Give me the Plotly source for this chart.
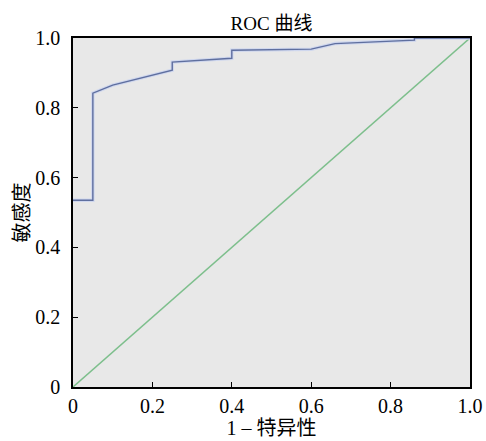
import plotly.graph_objects as go

# ROC curve points
fpr = [0, 0.05, 0.05, 0.10, 0.25, 0.25, 0.40, 0.40, 0.60, 0.66, 0.86, 0.86, 1.0]
tpr = [0.535, 0.535, 0.842, 0.865, 0.908, 0.931, 0.942, 0.965, 0.968, 0.984, 0.994, 1.0, 1.0]
ref_x = [0, 1]
ref_y = [0, 1]
tick_vals = [0, 0.2, 0.4, 0.6, 0.8, 1.0]
tick_text = ["0", "0.2", "0.4", "0.6", "0.8", "1.0"]

serif = "Liberation Serif, Times New Roman, serif"
cjk = "Liberation Serif, Noto Sans CJK SC, serif"

fig = go.Figure()
fig.add_trace(go.Scatter(x=ref_x, y=ref_y, mode="lines",
                         line=dict(color="#7dbf8c", width=1.5), showlegend=False))
fig.add_trace(go.Scatter(x=fpr, y=tpr, mode="lines",
                         line=dict(color="#cfd7ee", width=3.5), showlegend=False, hoverinfo="skip"))
fig.add_trace(go.Scatter(x=fpr, y=tpr, mode="lines",
                         line=dict(color="#5f6f9f", width=1.4), showlegend=False))

axis_common = dict(
    range=[0, 1], tickvals=tick_vals, ticktext=tick_text,
    ticks="inside", ticklen=5, tickwidth=1.2, tickcolor="black",
    showline=True, linecolor="black", linewidth=1.5, mirror=True,
    showgrid=False, zeroline=False, automargin=False,
    tickfont=dict(family=serif, size=20, color="black"),
)

fig.update_layout(
    width=486, height=441,
    margin=dict(l=73, r=16, t=38, b=54),
    paper_bgcolor="white", plot_bgcolor="#e8e8e8",
    title=dict(text="ROC 曲线", x=0.5587, xanchor="center", y=0.948, yanchor="middle",
               font=dict(family=cjk, size=19, color="black"), automargin=False),
    xaxis=dict(**axis_common,
               title=dict(text="1 – 特异性", font=dict(family=cjk, size=20, color="black"), standoff=0)),
    yaxis=dict(**axis_common, ticklabelstandoff=7,
               title=dict(text="敏感度", font=dict(family=cjk, size=20, color="black"), standoff=0)),
)

fig.write_html("out.html", config={"displayModeBar": False},
               post_script="document.body.style.margin='0';document.body.style.overflow='hidden';")
